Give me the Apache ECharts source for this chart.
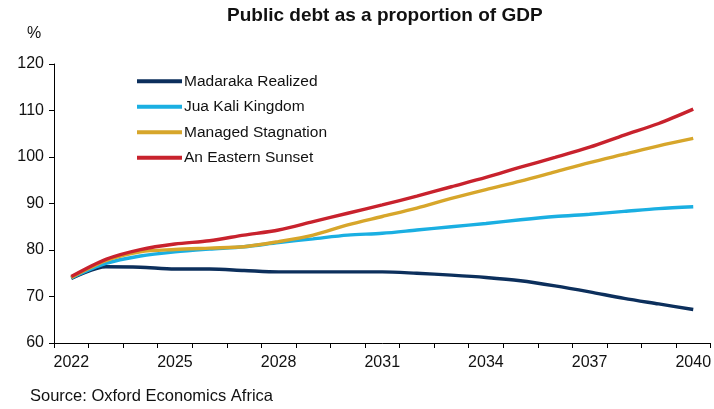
<!DOCTYPE html>
<html>
<head>
<meta charset="utf-8">
<script src="https://cdn.jsdelivr.net/npm/echarts@6/dist/echarts.min.js"></script>
<style>html,body{margin:0;padding:0;background:#fff;}#c{width:714px;height:409px;}</style>
</head>
<body>
<div id="c"></div>
<script>
const years = ['2022','2023','2024','2025','2026','2027','2028','2029','2030','2031','2032','2033','2034','2035','2036','2037','2038','2039','2040'];
const madaraka = [73.9,76.4,76.3,75.9,75.9,75.6,75.3,75.3,75.3,75.3,75.0,74.6,74.1,73.4,72.3,71.0,69.6,68.4,67.2];
const juaKali  = [74.0,77.1,78.7,79.6,80.2,80.7,81.6,82.4,83.2,83.6,84.3,85.0,85.7,86.5,87.2,87.7,88.3,88.9,89.3];
const managed  = [74.1,77.7,79.6,80.1,80.4,80.7,81.8,83.2,85.4,87.2,89.0,91.1,93.0,94.8,96.8,98.8,100.6,102.4,104.0];
const eastern  = [74.3,78.0,80.1,81.3,82.0,83.2,84.3,86.1,87.9,89.7,91.6,93.6,95.6,97.8,99.9,102.1,104.7,107.2,110.3];
const seriesNames = ['Madaraka Realized','Jua Kali Kingdom','Managed Stagnation','An Eastern Sunset'];
const colors = ['#0c2f5c','#1aafe2','#d7a62b','#c8222d'];
const yTicks = {min:60, max:120, interval:10};

const FONT = 'Liberation Sans, Arial, sans-serif';
const chart = echarts.init(document.getElementById('c'), null, {renderer:'canvas'});
const dataSets = [madaraka, juaKali, managed, eastern];
chart.setOption({
  animation:false,
  backgroundColor:'#fff',
  textStyle:{fontFamily:FONT},
  title:{text:'Public debt as a proportion of GDP', left:222, top:1,
    textStyle:{fontFamily:FONT, fontSize:19, fontWeight:'bold', color:'#111'}},
  graphic:[
    {type:'text', left:27, top:26, style:{text:'%', font:'16px '+FONT, fill:'#111'}},
    {type:'text', left:30, top:388, style:{text:'Source: Oxford Economics Africa', font:'16.5px '+FONT, fill:'#111'}}
  ],
  legend:{orient:'vertical', left:137, top:72.5, padding:0, itemWidth:45, itemHeight:4, itemGap:8, icon:'rect',
    textStyle:{fontFamily:FONT, fontSize:15.5, color:'#111', padding:[0,0,0,-3], lineHeight:17.5},
    data:seriesNames},
  grid:{left:54, right:2, top:64, bottom:66, containLabel:false},
  xAxis:{type:'category', data:years, boundaryGap:true,
    axisLine:{show:true, lineStyle:{color:'#000', width:1}},
    axisTick:{show:true, interval:0, length:5, lineStyle:{color:'#000'}},
    axisLabel:{interval:2, margin:12, fontSize:16, color:'#111', fontFamily:FONT},
    splitLine:{show:false}},
  yAxis:{type:'value', min:yTicks.min, max:yTicks.max, interval:yTicks.interval,
    axisLine:{show:true, lineStyle:{color:'#000', width:1}},
    axisTick:{show:true, length:5, lineStyle:{color:'#000'}},
    axisLabel:{margin:10, fontSize:16, color:'#111', fontFamily:FONT},
    splitLine:{show:false}},
  series: seriesNames.map((n,i)=>({name:n, type:'line', data:dataSets[i], smooth:0.3, symbol:'none',
    lineStyle:{width:3.4, color:colors[i]}, itemStyle:{color:colors[i]}}))
});
</script>
</body>
</html>
